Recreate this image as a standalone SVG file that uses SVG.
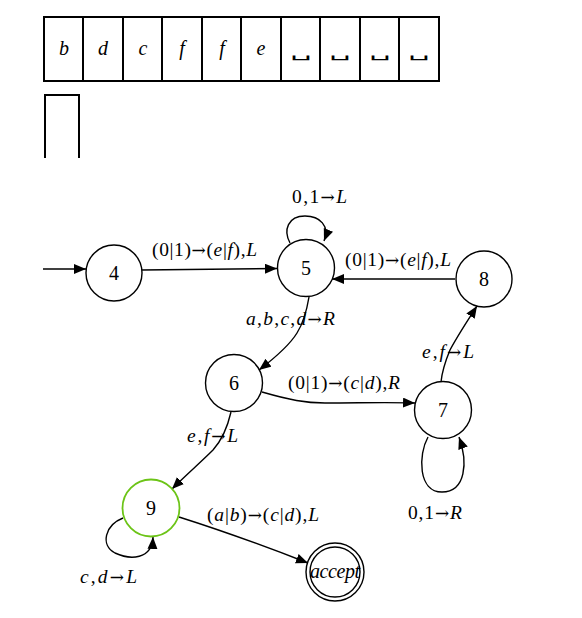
<svg xmlns="http://www.w3.org/2000/svg" width="582" height="618" viewBox="0 0 582 618">
<style>
.tape{fill:#fff;stroke:#000;stroke-width:2}
.node{fill:#fff;stroke:#000;stroke-width:1.4}
.edge{fill:none;stroke:#000;stroke-width:1.4}
text{font-family:"Liberation Serif","Times New Roman",serif;font-size:19.5px;fill:#000}
.nl{font-size:20px;text-anchor:middle}
.it{font-style:italic}
.ar{font-family:"DejaVu Serif",serif;font-size:17px}
.sym{font-family:"Liberation Serif",serif;font-size:20px;font-style:italic;text-anchor:middle}
.blank{font-family:"DejaVu Sans",sans-serif;font-size:14px;text-anchor:middle}
</style>
<defs>
<marker id="ah" markerUnits="userSpaceOnUse" markerWidth="14" markerHeight="12" refX="12" refY="5" orient="auto">
<path d="M0,0 L12,5 L0,10 z" fill="#000"/>
</marker>
</defs>
<g id="tape">
<rect class="tape" x="44" y="17" width="395" height="64"/>
<path class="tape" d="M83,17V81M123,17V81M162,17V81M202,17V81M241,17V81M281,17V81M320,17V81M360,17V81M399,17V81"/>
<text class="sym" x="64" y="55">b</text>
<text class="sym" x="103" y="55">d</text>
<text class="sym" x="143" y="55">c</text>
<text class="sym" x="182" y="55">f</text>
<text class="sym" x="222" y="55">f</text>
<text class="sym" x="261" y="55">e</text>
<text class="blank" transform="translate(301,57) scale(2.4,1)">␣</text>
<text class="blank" transform="translate(340,57) scale(2.4,1)">␣</text>
<text class="blank" transform="translate(380,57) scale(2.4,1)">␣</text>
<text class="blank" transform="translate(419,57) scale(2.4,1)">␣</text>
<path class="tape" d="M45,158 V95 H79 V158" style="fill:none"/>
</g>
<g id="edges">
<path class="edge" d="M43,269 L86,269" marker-end="url(#ah)"/>
<path class="edge" d="M142,270 L277,268.5" marker-end="url(#ah)"/>
<path class="edge" d="M290,243 C283,230 288,216 305,216 C320,216 330,226 324,241" marker-end="url(#ah)"/>
<path class="edge" d="M455,279 L332,279" marker-end="url(#ah)"/>
<path class="edge" d="M309,297 C306,315 302,325 297,333 C289,346 276,357 259,370" marker-end="url(#ah)"/>
<path class="edge" d="M262,392 C290,400 305,403 325,403 C360,403 385,402 415,403" marker-end="url(#ah)"/>
<path class="edge" d="M441,382 C442,372 445,362 450,350 C458,335 468,320 477,306" marker-end="url(#ah)"/>
<path class="edge" d="M428,437 C418,455 418,492 442,492 C466,492 468,462 459,437" marker-end="url(#ah)"/>
<path class="edge" d="M231,412 C228,425 222,440 213,450 C200,463 188,473 172,489" marker-end="url(#ah)"/>
<path class="edge" d="M123,518 C105,525 100,545 115,553 C130,560 152,560 153,537" marker-end="url(#ah)"/>
<path class="edge" d="M179,517 C220,530 262,545 308,563" marker-end="url(#ah)"/>
</g>
<g id="edge-labels">
<text x="292" y="203" textLength="55">0,1<tspan class="ar">→</tspan><tspan class="it">L</tspan></text>
<text x="152" y="256" textLength="105">(0|1)<tspan class="ar">→</tspan>(<tspan class="it">e</tspan>|<tspan class="it">f</tspan>),<tspan class="it">L</tspan></text>
<text x="345" y="266" textLength="106">(0|1)<tspan class="ar">→</tspan>(<tspan class="it">e</tspan>|<tspan class="it">f</tspan>),<tspan class="it">L</tspan></text>
<text x="246" y="325" textLength="89"><tspan class="it">a</tspan>,<tspan class="it">b</tspan>,<tspan class="it">c</tspan>,<tspan class="it">d</tspan><tspan class="ar">→</tspan><tspan class="it">R</tspan></text>
<text x="288" y="389" textLength="112">(0|1)<tspan class="ar">→</tspan>(<tspan class="it">c</tspan>|<tspan class="it">d</tspan>),<tspan class="it">R</tspan></text>
<text x="422" y="358" textLength="52"><tspan class="it">e</tspan>,<tspan class="it">f</tspan><tspan class="ar">→</tspan><tspan class="it">L</tspan></text>
<text x="187" y="442" textLength="51"><tspan class="it">e</tspan>,<tspan class="it">f</tspan><tspan class="ar">→</tspan><tspan class="it">L</tspan></text>
<text x="408" y="519" textLength="54">0,1<tspan class="ar">→</tspan><tspan class="it">R</tspan></text>
<text x="80" y="583" textLength="57"><tspan class="it">c</tspan>,<tspan class="it">d</tspan><tspan class="ar">→</tspan><tspan class="it">L</tspan></text>
<text x="207" y="521" textLength="112">(<tspan class="it">a</tspan>|<tspan class="it">b</tspan>)<tspan class="ar">→</tspan>(<tspan class="it">c</tspan>|<tspan class="it">d</tspan>),<tspan class="it">L</tspan></text>
</g>
<g id="n4"><circle class="node" cx="114" cy="273" r="28"/><text class="nl" x="114" y="280">4</text></g>
<g id="n5"><circle class="node" cx="306" cy="268" r="28.5"/><text class="nl" x="306" y="275">5</text></g>
<g id="n8"><circle class="node" cx="484" cy="279" r="28"/><text class="nl" x="484" y="286">8</text></g>
<g id="n6"><circle class="node" cx="234" cy="383" r="28.5"/><text class="nl" x="234" y="390">6</text></g>
<g id="n7"><circle class="node" cx="443" cy="410" r="28.5"/><text class="nl" x="443" y="417">7</text></g>
<g id="n9"><circle class="node" cx="151" cy="508" r="28.5" style="stroke:#6cc417;stroke-width:1.8"/><text class="nl" x="151" y="515">9</text></g>
<g id="accept"><circle class="node" cx="335" cy="572" r="29"/><circle class="node" cx="335" cy="572" r="25"/><text class="nl it" x="335" y="578" textLength="50">accept</text></g>
</svg>
